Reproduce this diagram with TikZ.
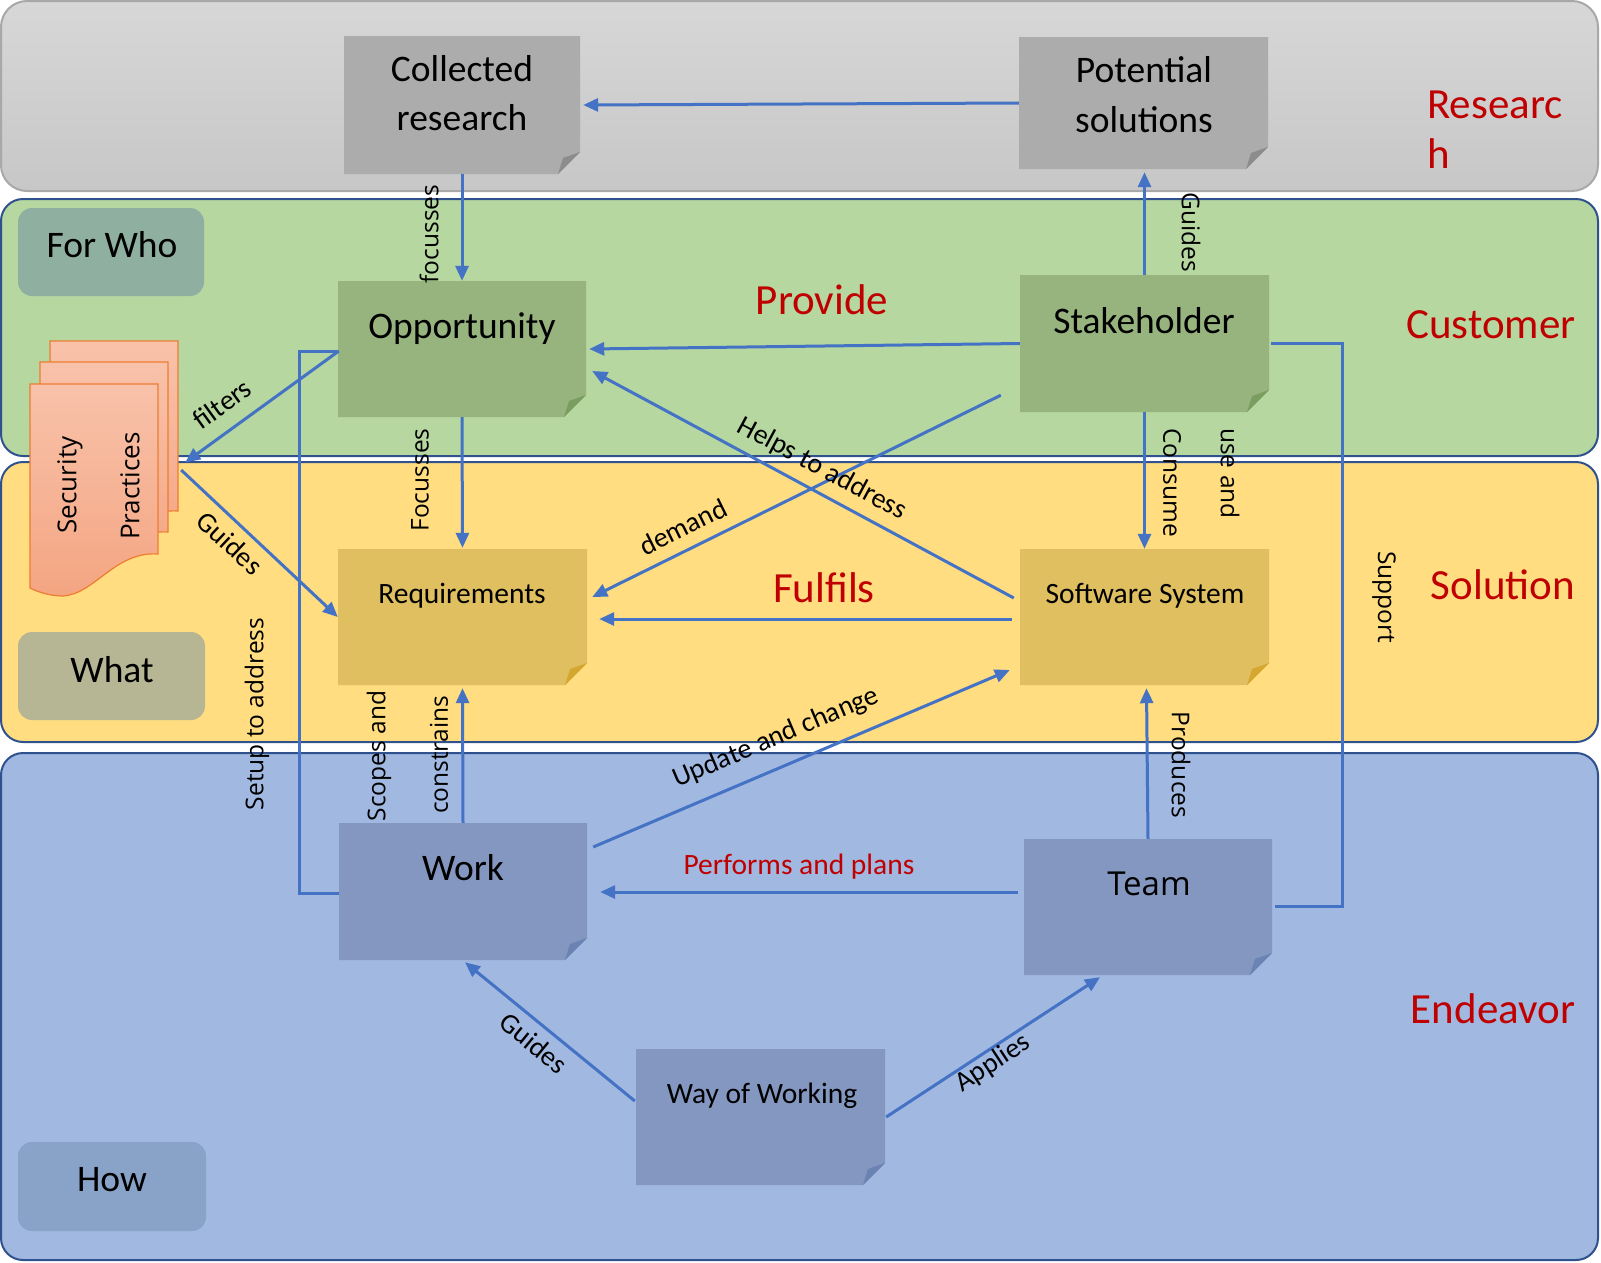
\documentclass[tikz,border=0pt]{standalone}
\usepackage{fontspec}
\setmainfont{Carlito}
\newfontfamily\osans{Open Sans}
\usetikzlibrary{arrows.meta,calc}
\definecolor{cblue}{RGB}{68,114,196}
\definecolor{cred}{RGB}{192,0,0}
\definecolor{bandgrayt}{RGB}{215,215,215}
\definecolor{bandgrayb}{RGB}{199,199,199}
\definecolor{bandgrayd}{RGB}{168,168,168}
\definecolor{bandgreen}{RGB}{182,215,160}
\definecolor{bandyellow}{RGB}{255,221,128}
\definecolor{bandblue}{RGB}{161,184,225}
\definecolor{bandborder}{RGB}{47,82,143}
\definecolor{cgrayn}{RGB}{172,172,172}
\definecolor{cgrayf}{RGB}{140,140,140}
\definecolor{cgreenn}{RGB}{151,180,127}
\definecolor{cgreenf}{RGB}{122,158,96}
\definecolor{cyelln}{RGB}{223,191,96}
\definecolor{cyellf}{RGB}{212,168,48}
\definecolor{cbluen}{RGB}{131,151,192}
\definecolor{cbluef}{RGB}{106,131,178}
\definecolor{cforwho}{RGB}{143,176,161}
\definecolor{cwhat}{RGB}{182,182,148}
\definecolor{chow}{RGB}{136,162,200}
\definecolor{docborder}{RGB}{237,125,49}
\definecolor{doctop}{RGB}{248,194,170}
\definecolor{docbot}{RGB}{244,165,130}
\newcommand\notebox[7]{%
  \fill[#6] (#2,#3) -- (#4,#3) -- (#4,#5-22) -- (#4-22,#5) -- (#2,#5) -- cycle;
  \fill[#7] (#4,#5-22) -- (#4-22,#5) -- (#4-17,#5-16) -- cycle;
  \node[inner sep=0, minimum width={#4-#2}, minimum height={#5-#3}] (#1) at ({(#2+#4)/2},{(#3+#5)/2}) {};
}
\newcommand\docpage[2]{%
  \begin{scope}[shift={(#1,#2)}]
    \shade[top color=doctop, bottom color=docbot] (30,384) -- (158,384) -- (158,554) .. controls (115,551) and (95,594) .. (63,596) .. controls (50,596) and (38,592) .. (30,588) -- cycle;
    \draw[docborder, line width=1.2pt] (30,384) -- (158,384) -- (158,554) .. controls (115,551) and (95,594) .. (63,596) .. controls (50,596) and (38,592) .. (30,588) -- cycle;
  \end{scope}
}
\begin{document}
\begin{tikzpicture}[x=1pt,y=-1pt,
  conn/.style={draw=cblue, line width=3pt},
  arr/.style={conn, -{Triangle[length=15pt,width=13pt]}},
  boxtxt/.style={font=\fontsize{37.5}{44}\selectfont, inner sep=0},
  midtxt/.style={font=\fontsize{29.5}{35}\selectfont, inner sep=0},
  teamtxt/.style={font=\osans\fontsize{33}{39}\selectfont, inner sep=0},
  redtxt/.style={font=\fontsize{43}{51}\selectfont, text=cred, inner sep=0},
  vlab/.style={font=\osans\fontsize{24.5}{29}\selectfont, inner sep=0},
  doclab/.style={font=\osans\fontsize{26}{31}\selectfont, inner sep=0},
  dlab/.style={font=\fontsize{28}{33}\selectfont, inner sep=0},
  lblbox/.style={inner sep=0, rounded corners=14pt},
]
\useasboundingbox (0,0) rectangle (1601,1262);
% bands
\shade[top color=bandgrayt, bottom color=bandgrayb, rounded corners=26pt] (1,1) rectangle (1598,191);
\draw[bandgrayd, line width=2pt, rounded corners=26pt] (1,1) rectangle (1598,191);
\draw[bandborder, fill=bandgreen, line width=2pt, rounded corners=22pt] (1,199) rectangle (1598,456);
\draw[bandborder, fill=bandyellow, line width=2pt, rounded corners=22pt] (1,462) rectangle (1598,742);
\draw[bandborder, fill=bandblue, line width=2pt, rounded corners=22pt] (1,753) rectangle (1598,1260);
% label boxes
\node[lblbox, fill=cforwho, minimum width=186pt, minimum height=88pt] (forwhobox) at (111,252) {};
\node[boxtxt] (forwho) at (112,245) {For Who};
\node[lblbox, fill=cwhat, minimum width=187pt, minimum height=88pt] (whatbox) at (111.5,676) {};
\node[boxtxt] (what) at (112,670) {What};
\node[lblbox, fill=chow, minimum width=188pt, minimum height=89pt] (howbox) at (112,1186.5) {};
\node[boxtxt] (how) at (112,1180) {How};
% notes
\notebox{cr}{344}{36}{580}{174}{cgrayn}{cgrayf}
\notebox{ps}{1019}{37}{1268}{169}{cgrayn}{cgrayf}
\notebox{opp}{338}{281}{586}{417}{cgreenn}{cgreenf}
\notebox{sh}{1020}{275}{1269}{412}{cgreenn}{cgreenf}
\notebox{req}{338}{549}{587}{685}{cyelln}{cyellf}
\notebox{ss}{1020}{549}{1269}{685}{cyelln}{cyellf}
\notebox{work}{339}{823}{587}{960}{cbluen}{cbluef}
\notebox{team}{1024}{839}{1272}{975}{cbluen}{cbluef}
\notebox{wow}{636}{1049}{885}{1185}{cbluen}{cbluef}
\node[boxtxt] (crt1) at (462,69) {Collected};
\node[boxtxt] (crt2) at (462,118) {research};
\node[boxtxt] (pst1) at (1144,70) {Potential};
\node[boxtxt] (pst2) at (1144,120) {solutions};
\node[boxtxt] (oppt) at (462,329) {Opportunity};
\node[boxtxt] (sht) at (1144,321) {Stakeholder};
\node[midtxt] (reqt) at (462,596) {Requirements};
\node[midtxt] (sst) at (1145,596) {Software System};
\node[boxtxt] (workt) at (463,868) {Work};
\node[teamtxt] (teamt) at (1149,884) {Team};
\node[midtxt] (wowt) at (762,1096) {Way of Working};
% security practices
\docpage{20}{-43}
\docpage{10}{-22}
\docpage{0}{0}
\node[inner sep=0, minimum width=150pt, minimum height=255pt] (sp) at (105,468.5) {};
\node[doclab, rotate=90] (spt1) at (70,485) {Security};
\node[doclab, rotate=90] (spt2) at (130,486) {Practices};
% connectors
\draw[arr] (ps.west) -- ($(cr.east)+(3,0)$);
\draw[arr] (cr.south) -- (opp.north);
\draw[arr] (sh.north) -- ($(sh.north |- ps.south)+(0,3)$);
\draw[arr] (sh.west) -- ($(opp.east)+(3,0)$);
\draw[arr] ($(ss.west)+(-6,-19)$) -- ($(opp.east)+(6,22)$);
\draw[arr] ($(sh.south west)+(-19,-17)$) -- ($(req.east)+(5,-20)$);
\draw[arr] ($(ss.west)+(-8,2)$) -- ($(req.east)+(12,2)$);
\draw[arr] (sh.south) -- (sh.south |- ss.north);
\draw[arr] (team.north) -- ($(ss.south)+(2,3)$);
\draw[arr] ($(team.west)+(-6,-15)$) -- ($(work.east)+(13,0.5)$);
\draw[arr] ($(work.east)+(6,-44.5)$) -- ($(ss.west)+(-10,53)$);
\draw[arr] (work.north) -- ($(req.south)+(0,3)$);
\draw[arr] (opp.south) -- ($(req.north)+(0,-1)$);
\draw[arr] ($(wow.west)+(-1,-16)$) -- ($(work.south)+(2,2)$);
\draw[arr] ($(wow.east)+(1,0)$) -- ($(team.south)+(-48,2)$);
\draw[conn] ($(team.east)+(3,-1)$) -| ($(sh.east)+(73,0)$) -- ($(sh.east)+(2,0)$);
\draw[conn] ($(opp.west)+(0,2)$) -| ($(work.west)+(-39,1.5)$) -- ($(work.west)+(0,1.5)$);
\draw[arr] ($(opp.west)+(1,2)$) -- ($(sp.east)+(5,-6)$);
\draw[arr] ($(sp.east)+(1,1.5)$) -- (req.west);
% connector labels
\node[vlab, rotate=90] (lfoc) at (429,234) {focusses};
\node[vlab, rotate=-90] (lguid1) at (1191,232) {Guides};
\node[vlab, rotate=-90, anchor=west] (lcons) at (1172,428) {Consume};
\node[vlab, rotate=-90, anchor=west] (luse) at (1230,428) {use and};
\node[vlab, rotate=90] (lfoc2) at (420,480) {Focusses};
\node[vlab, rotate=-90] (lprod) at (1181,765) {Produces};
\node[vlab, rotate=-90] (lsup) at (1384,597) {Support};
\node[vlab, rotate=90] (lsetup) at (257,714) {Setup to address};
\node[vlab, rotate=90] (lscope) at (379,756) {Scopes and};
\node[vlab, rotate=90] (lconst) at (439,755) {constrains};
\node[dlab, rotate=-28.3] (lhelp) at (822,469) {Helps to address};
\node[dlab, rotate=26.3] (ldem) at (683,527) {demand};
\node[dlab, rotate=23] (lupd) at (776,738) {Update and change};
\node[dlab, rotate=-39.3] (lguid2) at (534,1043) {Guides};
\node[dlab, rotate=33.2] (lapp) at (993,1063) {Applies};
\node[dlab, rotate=35.8] (lfilt) at (222,404) {filters};
\node[dlab, rotate=-43.1] (lguid3) at (230,543) {Guides};
\node[font=\fontsize{29.5}{35}\selectfont, text=cred, inner sep=0] (lperf) at (799,867) {Performs and plans};
% band titles
\node[redtxt] (lprov) at (822,300) {Provide};
\node[redtxt] (lful) at (824,588) {Fulfils};
\node[redtxt] (lcust) at (1491,325) {Customer};
\node[redtxt, anchor=base west] (lres1) at (1427,118) {Researc};
\node[redtxt, anchor=base west] (lres2) at (1427,168) {h};
\node[redtxt] (lsol) at (1503,585) {Solution};
\node[redtxt] (lend) at (1493,1009) {Endeavor};
\end{tikzpicture}
\end{document}
